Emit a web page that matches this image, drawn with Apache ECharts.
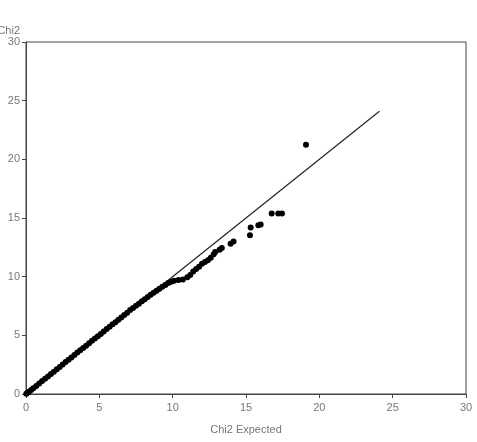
<!DOCTYPE html>
<html>
<head>
<meta charset="utf-8">
<script src="https://cdn.jsdelivr.net/npm/echarts@6/dist/echarts.min.js"></script>
<style>
  html, body { margin: 0; padding: 0; background: #fff; }
  #chart { width: 477px; height: 442px; }
</style>
</head>
<body>
<div id="chart"></div>
<script>
// QQ plot: observed chi2 vs expected chi2
const expected = [
  0.02, 0.1, 0.2, 0.35, 0.5, 0.7, 0.9, 1.1, 1.3, 1.5, 1.7, 1.9, 2.1, 2.3, 2.5, 2.7, 2.9,
  3.1, 3.3, 3.5, 3.7, 3.9, 4.1, 4.3, 4.5, 4.7, 4.9, 5.1, 5.3, 5.5, 5.7, 5.9, 6.1, 6.3,
  6.5, 6.7, 6.9, 7.1, 7.3, 7.5, 7.7, 7.9, 8.1, 8.3, 8.5, 8.7, 8.9, 9.1, 9.3, 9.5, 9.7,
  9.9, 10.1, 10.4, 10.7, 11.0, 11.2, 11.4, 11.6, 11.8, 12.0, 12.2, 12.4, 12.6, 12.8,
  12.9, 13.2, 13.35, 13.95, 14.15, 15.27, 15.32, 15.84, 16.0, 16.75, 17.2, 17.45, 19.09
];
const observed = [
  0.02, 0.1, 0.2, 0.34, 0.5, 0.69, 0.9, 1.1, 1.31, 1.5, 1.71, 1.9, 2.12, 2.3, 2.52, 2.72, 2.92,
  3.12, 3.32, 3.53, 3.72, 3.93, 4.12, 4.32, 4.53, 4.72, 4.93, 5.12, 5.32, 5.54, 5.74, 5.94, 6.12, 6.33,
  6.52, 6.74, 6.92, 7.15, 7.33, 7.52, 7.7, 7.9, 8.08, 8.27, 8.45, 8.62, 8.8, 8.98, 9.15, 9.3, 9.45,
  9.57, 9.65, 9.72, 9.76, 9.95, 10.15, 10.45, 10.65, 10.85, 11.1, 11.25, 11.4, 11.62, 11.9,
  12.1, 12.3, 12.45, 12.8, 13.0, 13.53, 14.19, 14.39, 14.44, 15.38, 15.38, 15.38, 21.25
];
const refLine = [0, 24.1];
const axisTicks = [0, 5, 10, 15, 20, 25, 30];

const chart = echarts.init(document.getElementById('chart'));

const labelStyle = {
  color: '#777',
  fontSize: 11,
  fontFamily: 'Liberation Sans'
};

const option = {
  animation: false,
  backgroundColor: '#fff',
  grid: {
    left: 26,
    right: 11,
    top: 42,
    bottom: 48,
    outerBoundsMode: 'none',
    containLabel: false,
    show: true,
    borderColor: '#444',
    borderWidth: 1
  },
  xAxis: {
    type: 'value',
    min: axisTicks[0],
    max: axisTicks[axisTicks.length - 1],
    interval: 5,
    name: 'Chi2 Expected',
    nameLocation: 'middle',
    nameGap: 30,
    nameTextStyle: labelStyle,
    axisLine: { lineStyle: { color: '#444', width: 1 } },
    axisTick: { show: true, length: 4, lineStyle: { color: '#444' } },
    axisLabel: Object.assign({ margin: 8 }, labelStyle),
    splitLine: { show: false }
  },
  yAxis: {
    type: 'value',
    min: axisTicks[0],
    max: axisTicks[axisTicks.length - 1],
    interval: 5,
    name: 'Chi2',
    nameLocation: 'end',
    nameGap: 5,
    nameTextStyle: Object.assign({ align: 'right', padding: [0, 6, 0, 0] }, labelStyle),
    axisLine: { show: true, lineStyle: { color: '#444', width: 1 } },
    axisTick: { show: true, length: 4, lineStyle: { color: '#444' } },
    axisLabel: Object.assign({ margin: 6 }, labelStyle),
    splitLine: { show: false }
  },
  series: [
    {
      type: 'line',
      data: refLine.map(v => [v, v]),
      symbol: 'none',
      lineStyle: { color: '#222', width: 1.2 },
      z: 1
    },
    {
      type: 'scatter',
      data: expected.map((x, i) => [x, observed[i]]),
      symbol: 'circle',
      symbolSize: 6,
      itemStyle: { color: '#000', opacity: 1 },
      z: 2
    }
  ]
};

chart.setOption(option);
</script>
</body>
</html>
